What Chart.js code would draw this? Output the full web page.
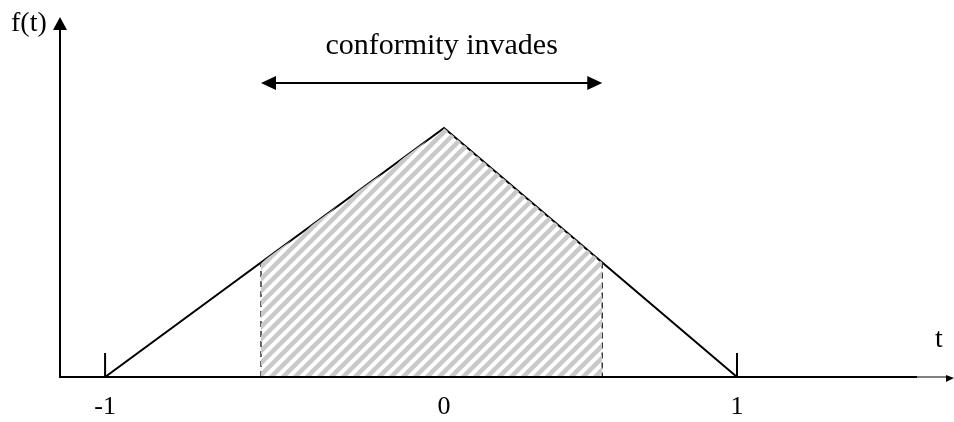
<!DOCTYPE html>
<html>
<head>
<meta charset="utf-8">
<script src="https://cdn.jsdelivr.net/npm/chart.js@4.4.1/dist/chart.umd.min.js"></script>
<style>
  html, body { margin: 0; padding: 0; background: #fff; }
  #wrap { width: 954px; height: 422px; }
</style>
</head>
<body>
<div id="wrap"><canvas id="chart"></canvas></div>
<script>
// triangle f(t)
const triT = [-1, 0, 1];
const triF = [0, 1, 0];
// hatched region where conformity invades
const invadeT = [-0.54, -0.54, 0, 0.54, 0.54];
const invadeF = [0, 0.46, 1, 0.46, 0];
// tick labels on the t axis
const xTicks = [-1, 0, 1];
const xTickLabels = ['-1', '0', '1'];

// the sketch puts 0 off centre, so the two halves of the t axis have different scales
class SplitScale extends Chart.LinearScale {
    zeroPx() {
        return this.left + this.width * this.options.zeroFrac;
    }
    getPixelForValue(v) {
        const z = this.zeroPx();
        if (v <= 0) return z - (z - this.left) * (v / this.min);
        return z + (this.right - z) * (v / this.max);
    }
    getValueForPixel(p) {
        const z = this.zeroPx();
        if (p <= z) return this.min * (z - p) / (z - this.left);
        return this.max * (p - z) / (this.right - z);
    }
}
SplitScale.id = 'split';
SplitScale.defaults = Chart.LinearScale.defaults;
Chart.register(SplitScale);

function hatch() {
    const s = 12;
    const c = document.createElement('canvas');
    c.width = s; c.height = s;
    const g = c.getContext('2d');
    g.strokeStyle = '#c9c9c9';
    g.lineWidth = 4.5;
    g.lineCap = 'square';
    [-s, 0, s].forEach(function (k) {
        g.beginPath();
        g.moveTo(k - 2, s + 2);
        g.lineTo(k + s + 2, -2);
        g.stroke();
    });
    return g.createPattern(c, 'repeat');
}

const serif = '"Liberation Serif", "Times New Roman", serif';

const axesPlugin = {
    id: 'axes',
    afterDatasetsDraw(chart) {
        const ctx = chart.ctx;
        const a = chart.chartArea;
        const x = chart.scales.x;
        ctx.save();
        ctx.fillStyle = '#000';
        ctx.strokeStyle = '#000';
        // y axis with arrow
        ctx.lineWidth = 2;
        ctx.beginPath();
        ctx.moveTo(a.left, a.bottom + 1);
        ctx.lineTo(a.left, a.top + 12);
        ctx.stroke();
        ctx.beginPath();
        ctx.moveTo(a.left, a.top);
        ctx.lineTo(a.left - 7, a.top + 13);
        ctx.lineTo(a.left + 7, a.top + 13);
        ctx.closePath();
        ctx.fill();
        // t axis with arrow
        ctx.beginPath();
        ctx.moveTo(a.left, a.bottom);
        ctx.lineTo(917, a.bottom);
        ctx.stroke();
        ctx.lineWidth = 1;
        ctx.beginPath();
        ctx.moveTo(917, a.bottom);
        ctx.lineTo(947, a.bottom);
        ctx.stroke();
        ctx.beginPath();
        ctx.moveTo(954, a.bottom + 1);
        ctx.lineTo(946, a.bottom - 2);
        ctx.lineTo(946, a.bottom + 5);
        ctx.closePath();
        ctx.fill();
        // small upward ticks at -1 and 1
        ctx.lineWidth = 2;
        [-1, 1].forEach(function (v) {
            const px = x.getPixelForValue(v);
            ctx.beginPath();
            ctx.moveTo(px, a.bottom);
            ctx.lineTo(px, a.bottom - 24);
            ctx.stroke();
        });
        // axis names
        ctx.font = '28px ' + serif;
        ctx.textBaseline = 'middle';
        ctx.textAlign = 'left';
        ctx.fillText('f(t)', 11, 24);
        ctx.fillText('t', 935, 340);
        // double arrow over the invaded range
        const l = x.getPixelForValue(-0.54);
        const r = x.getPixelForValue(0.54);
        const y = 83;
        ctx.lineWidth = 2;
        ctx.beginPath();
        ctx.moveTo(l + 10, y);
        ctx.lineTo(r - 10, y);
        ctx.stroke();
        ctx.beginPath();
        ctx.moveTo(l, y);
        ctx.lineTo(l + 15, y - 7);
        ctx.lineTo(l + 15, y + 7);
        ctx.closePath();
        ctx.fill();
        ctx.beginPath();
        ctx.moveTo(r, y);
        ctx.lineTo(r - 15, y - 7);
        ctx.lineTo(r - 15, y + 7);
        ctx.closePath();
        ctx.fill();
        ctx.font = '30px ' + serif;
        ctx.textAlign = 'center';
        ctx.fillText('conformity invades', (l + r) / 2 + 10, 46);
        ctx.restore();
    }
};

function pts(ts, fs) {
    return ts.map(function (t, i) { return { x: t, y: fs[i] }; });
}

new Chart(document.getElementById('chart'), {
    type: 'scatter',
    data: {
        datasets: [
            {
                data: pts(invadeT, invadeF),
                showLine: true,
                fill: 'origin',
                backgroundColor: hatch(),
                borderColor: 'rgba(0,0,0,0)',
                borderWidth: 0,
                pointRadius: 0
            },
            {
                data: pts([invadeT[0], invadeT[1]], [invadeF[0], invadeF[1]]),
                showLine: true,
                borderColor: '#333',
                borderWidth: 1.5,
                borderDash: [6, 4],
                pointRadius: 0
            },
            {
                data: pts([invadeT[3], invadeT[4]], [invadeF[3], invadeF[4]]),
                showLine: true,
                borderColor: '#333',
                borderWidth: 1.5,
                borderDash: [6, 4],
                pointRadius: 0
            },
            {
                data: pts(triT, triF),
                showLine: true,
                borderColor: '#000',
                borderWidth: 2,
                pointRadius: 0
            }
        ]
    },
    options: {
        responsive: true,
        maintainAspectRatio: false,
        animation: false,
        layout: { padding: { left: 60, right: 4, top: 17, bottom: 0 } },
        plugins: {
            legend: { display: false },
            tooltip: { enabled: false }
        },
        scales: {
            x: {
                type: 'split',
                min: -1.133,
                max: 1.727,
                zeroFrac: 0.4315,
                grid: { display: false, drawTicks: false },
                border: { display: false },
                afterBuildTicks: function (scale) {
                    scale.ticks = xTicks.map(function (v) { return { value: v }; });
                },
                afterFit: function (scale) {
                    scale.height = 45;
                },
                ticks: {
                    autoSkip: false,
                    maxRotation: 0,
                    padding: 15,
                    color: '#000',
                    font: { family: serif, size: 26 },
                    callback: function (v) {
                        return xTickLabels[xTicks.indexOf(v)];
                    }
                }
            },
            y: {
                min: 0,
                max: 1.446,
                display: false
            }
        }
    },
    plugins: [axesPlugin]
});
</script>
</body>
</html>
